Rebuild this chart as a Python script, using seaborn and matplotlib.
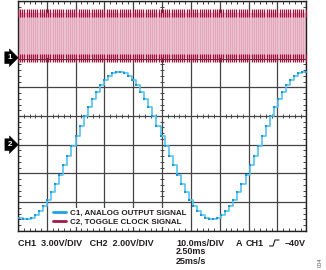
import numpy as np
import pandas as pd
import matplotlib
matplotlib.use("Agg")
import matplotlib.pyplot as plt
from matplotlib.lines import Line2D
import seaborn as sns

# ---------------- data (x in ms, y in screen divisions, centre = 0) ----------------
dac_start_ms = 0.3
dac_step_ms = 1.404
dac_levels = [-3.55, -3.59, -3.59, -3.55, -3.45, -3.31, -3.13, -2.91, -2.65, -2.37,
              -2.05, -1.72, -1.38, -1.03, -0.68, -0.34, -0.01, 0.31, 0.59, 0.85,
              1.07, 1.25, 1.39, 1.49, 1.53, 1.53, 1.49, 1.39, 1.25, 1.07,
              0.85, 0.59, 0.31, -0.01, -0.34, -0.68, -1.03, -1.38, -1.72, -2.05,
              -2.37, -2.65, -2.91, -3.13, -3.31, -3.45, -3.55, -3.59, -3.59, -3.55,
              -3.45, -3.31, -3.13, -2.91, -2.65, -2.37, -2.05, -1.72, -1.38, -1.03,
              -0.68, -0.34, -0.01, 0.31, 0.59, 0.85, 1.07, 1.25, 1.39, 1.49,
              1.53, 1.53]
clock_levels = [2.03, 3.60]          # low / high level of toggle clock (div)
clock_half_period_ms = 0.75
ch1_ground_div = 2.03
ch2_ground_div = -1.0
legend_labels = ["C1, ANALOG OUTPUT SIGNAL", "C2, TOGGLE CLOCK SIGNAL"]
x_divs = list(range(0, 101, 10))
y_divs = list(range(-4, 5))

# ---------------- style ----------------
sns.set_theme(style="white")
plt.rcParams['font.family'] = ['Liberation Sans', 'DejaVu Sans']
BLUE_LINE = "#55c2ee"
BLUE_MARK = "#1b95d4"
RED = "#a3123f"
PINK = "#ecc0cf"
GRID = "#444444"
TXT = "#231f20"

fig = plt.figure(figsize=(3.26, 2.70), dpi=100)
W, H = 326, 270
ax = fig.add_axes([18 / W, 1 - 230.8 / H, 288.3 / W, 229.6 / H])
ax.set_facecolor("white")

# ---------------- clock (channel 2 trace, red) ----------------
n_edges = int(100 / clock_half_period_ms) + 2
clk_t = np.arange(n_edges) * clock_half_period_ms
clk_v = np.array([clock_levels[i % 2] for i in range(n_edges)])
ax.fill_between([0, 100], clock_levels[0], clock_levels[1], color=PINK, lw=0, zorder=2)
clk_df = pd.DataFrame({"t": clk_t, "v": clk_v})
sns.lineplot(data=clk_df, x="t", y="v", ax=ax, color="#d07a98", lw=0.4,
             drawstyle="steps-post", estimator=None, sort=False, zorder=3, alpha=0.6)
edge_df = pd.DataFrame({"t": np.concatenate([clk_t, clk_t]),
                        "v": np.concatenate([np.full(n_edges, clock_levels[1]),
                                             np.full(n_edges, clock_levels[0])])})
ax.plot(edge_df["t"], edge_df["v"], linestyle="none", marker="|", ms=5.5, mew=0.9,
        color=RED, zorder=4)

# ---------------- DAC output (blue staircase sine) ----------------
dac_t = dac_start_ms + np.arange(len(dac_levels)) * dac_step_ms
dac_df = pd.DataFrame({"t": dac_t, "v": dac_levels})
sns.lineplot(data=dac_df, x="t", y="v", ax=ax, color=BLUE_LINE, lw=1.2,
             drawstyle="steps-post", estimator=None, zorder=5)
ax.plot(dac_t, dac_levels, linestyle="none", marker="s", ms=2.0, color=BLUE_MARK,
        mew=0, zorder=6)

# ---------------- graticule ----------------
ax.set_xlim(0, 100)
ax.set_ylim(-4, 4)
ax.set_xticks(x_divs)
ax.set_yticks(y_divs)
ax.set_xticklabels([])
ax.set_yticklabels([])
ax.set_xlabel("")
ax.set_ylabel("")
ax.grid(True, color=GRID, lw=0.9, zorder=1)
ax.set_axisbelow(True)
ax.tick_params(which="major", length=0)
ax.set_xticks(np.arange(0, 100.01, 2), minor=True)
ax.set_yticks(np.arange(-4, 4.01, 0.2), minor=True)
ax.tick_params(which="minor", direction="in", length=2.4, width=0.7, color=GRID,
               top=True, right=True, bottom=True, left=True)
for s in ax.spines.values():
    s.set_color(TXT)
    s.set_linewidth(1.0)
mx = np.arange(0, 100.01, 2)
my = np.arange(-4, 4.01, 0.2)
ax.plot(mx, np.zeros_like(mx), linestyle="none", marker="|", ms=3.2, mew=0.7, color=GRID, zorder=1.5)
ax.plot(np.full_like(my, 50), my, linestyle="none", marker="_", ms=3.2, mew=0.7, color=GRID, zorder=1.5)

# ---------------- ground markers ----------------
for lab, yv in (("1", ch1_ground_div), ("2", ch2_ground_div)):
    ax.annotate(lab, xy=(-0.022, yv), xycoords=("axes fraction", "data"),
                ha="right", va="center", fontsize=5.8, fontweight="bold", color="white",
                bbox=dict(boxstyle="rarrow,pad=0.3", fc="black", ec="black", lw=0.3),
                annotation_clip=False, zorder=8)

# ---------------- legend ----------------
handles = [Line2D([], [], color="#1fa3e0", lw=2.0), Line2D([], [], color="#9e1b45", lw=2.0)]
leg = ax.legend(handles, legend_labels, loc="lower left", bbox_to_anchor=(0.115, 0.015),
                prop={"size": 5.8, "weight": "bold"}, frameon=True, facecolor="white",
                edgecolor="none", framealpha=1, fancybox=False, handlelength=1.6,
                handletextpad=0.5, labelspacing=0.15, borderpad=0.2, borderaxespad=0)
for t in leg.get_texts():
    t.set_color(TXT)
leg.set_zorder(7)

# ---------------- scope annotations ----------------
def ftxt(xp, yp, s, **kw):
    kw.setdefault("fontsize", 6.5)
    kw.setdefault("fontweight", "bold")
    kw.setdefault("color", TXT)
    kw.setdefault("va", "center")
    fig.text(xp / W, 1 - yp / H, s, **kw)

ftxt(18, 243, "CH1  3.00V/DIV   CH2  2.00V/DIV")
ftxt(176, 243, "10.0ms/DIV")
ftxt(236, 243, "A")
ftxt(246, 243, "CH1")
ftxt(306, 243, "\u201340V", ha="right")
ftxt(176, 252, "2.50ms")
ftxt(176, 262, "25ms/s")
# trigger (rising edge) symbol
sx = np.array([269.5, 273, 275, 279]) / W
sy = 1 - np.array([246, 246, 240, 240]) / H
fig.add_artist(Line2D(sx, sy, color=TXT, lw=0.8, transform=fig.transFigure))
fig.text(320 / W, 1 - 262 / H, "004", rotation=90, fontsize=4, color="#555555",
         ha="center", va="center")

fig.savefig("out.png", dpi=100, facecolor="white")
